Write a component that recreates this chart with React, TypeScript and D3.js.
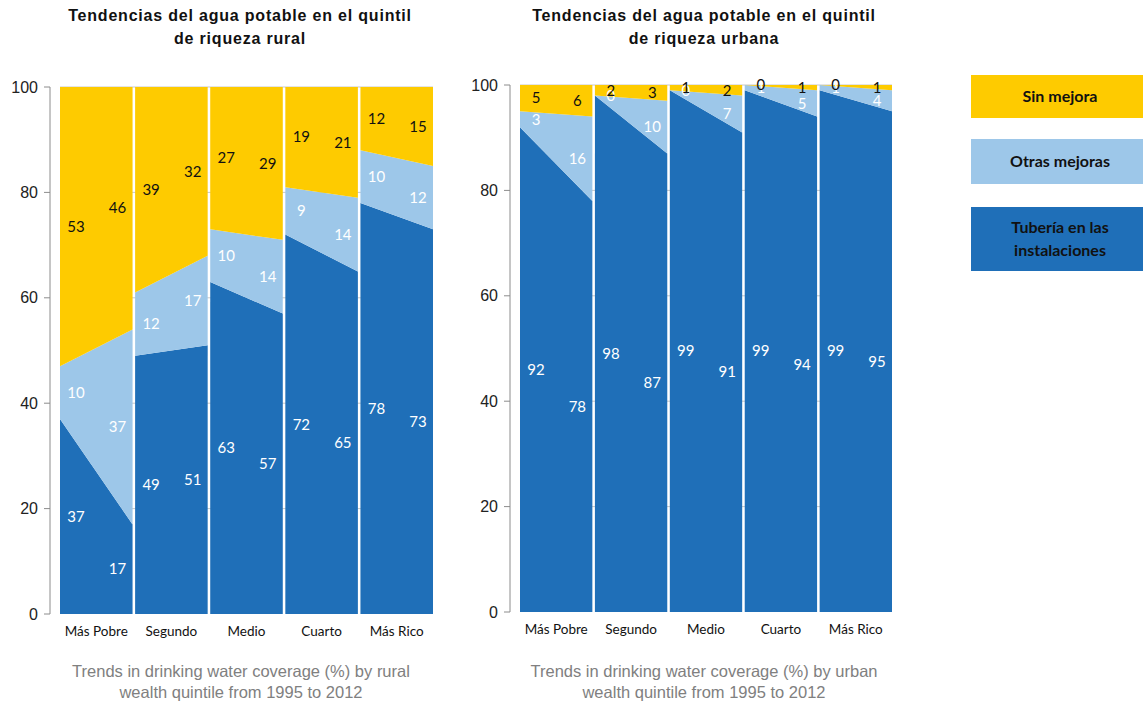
import React from "react";
import * as d3 from "d3";

// Wealth quintiles and the two survey years compared in each group
const quintiles = ["Más Pobre", "Segundo", "Medio", "Cuarto", "Más Rico"];
const years = [1995, 2012];

// Rural coverage (%) per quintile, [1995, 2012]
const ruralPiped = [[37, 17], [49, 51], [63, 57], [72, 65], [78, 73]];
const ruralOther = [[10, 37], [12, 17], [10, 14], [9, 14], [10, 12]];
const ruralUnimproved = [[53, 46], [39, 32], [27, 29], [19, 21], [12, 15]];

// Urban coverage (%) per quintile, [1995, 2012]
const urbanPiped = [[92, 78], [98, 87], [99, 91], [99, 94], [99, 95]];
const urbanOther = [[3, 16], [0, 10], [0, 7], [1, 5], [1, 4]];
const urbanUnimproved = [[5, 6], [2, 3], [1, 2], [0, 1], [0, 1]];

const yTicks = [0, 20, 40, 60, 80, 100];

const seriesNames = ["Tubería en las instalaciones", "Otras mejoras", "Sin mejora"];
const colors = ["#1F6FB8", "#9DC7E9", "#FECB00"];
const labelColors = ["#ffffff", "#ffffff", "#111111"];

const titleFont = "'Liberation Sans', Arial, sans-serif";
const labelFont = "Lato, 'Open Sans', sans-serif";

type PanelProps = {
  title: string[];
  caption: string[];
  series: number[][][];
  x0: number;
  x1: number;
  yBottom: number;
  yTop: number;
  titleX: number;
  captionX: number;
};

function Panel({ title, caption, series, x0, x1, yBottom, yTop, titleX, captionX }: PanelProps) {
  const y = d3.scaleLinear().domain([0, 100]).range([yBottom, yTop]);
  const band = d3.scaleBand<string>().domain(quintiles).range([x0, x1]).paddingInner(0.034).paddingOuter(0);

  // stack the three series at each quintile / year
  const stacks = quintiles.map((_, qi) => {
    let base = [0, 0];
    return series.map((s) => {
      const lo = base.slice();
      const hi = [lo[0] + s[qi][0], lo[1] + s[qi][1]];
      base = hi;
      return { lo, hi, vals: s[qi] };
    });
  });

  const axisX = x0 - 10;

  return (
    <g>
      {title.map((t, i) => (
        <text
          key={i}
          x={titleX}
          y={21 + i * 23}
          textAnchor="middle"
          fontFamily={titleFont}
          fontWeight="bold"
          fontSize={16}
          letterSpacing={0.8}
          fill="#111"
        >
          {t}
        </text>
      ))}

      {/* light gridlines, visible only in the gaps between quintiles */}
      {yTicks.slice(1).map((t) => (
        <line key={t} x1={x0} x2={x1} y1={y(t)} y2={y(t)} stroke="#c8c8c8" strokeWidth={1} />
      ))}

      {quintiles.map((q, qi) => {
        const left = band(q)!;
        const xt = d3.scaleLinear().domain([0, years.length - 1]).range([left, left + band.bandwidth()]);
        return (
          <g key={q}>
            {stacks[qi].map((st, si) => {
              const a = d3
                .area<number>()
                .x((i) => xt(i))
                .y0((i) => y(st.lo[i]))
                .y1((i) => y(st.hi[i]));
              return <path key={si} d={a([0, 1]) || ""} fill={colors[si]} />;
            })}
          </g>
        );
      })}

      {/* value labels at each end of every quintile */}
      {quintiles.map((q, qi) => {
        const left = band(q)!;
        const right = left + band.bandwidth();
        const lx = [left + 16, right - 15];
        return stacks[qi].map((st, si) =>
          [0, 1].map((i) => (
            <text
              key={`${q}-${si}-${i}`}
              x={lx[i]}
              y={y((st.lo[i] + st.hi[i]) / 2)}
              dy="0.35em"
              textAnchor="middle"
              fontFamily={labelFont}
              fontSize={15}
              fill={labelColors[si]}
            >
              {st.vals[i]}
            </text>
          ))
        );
      })}

      {/* y axis */}
      <line x1={axisX} x2={axisX} y1={y(100)} y2={y(0)} stroke="#8c8c8c" strokeWidth={1} />
      {yTicks.map((t) => (
        <g key={t}>
          <line x1={axisX - 6} x2={axisX} y1={y(t)} y2={y(t)} stroke="#8c8c8c" strokeWidth={1} />
          <text x={axisX - 12} y={y(t)} dy="0.35em" textAnchor="end" fontFamily={titleFont} fontSize={16} fill="#222">
            {t}
          </text>
        </g>
      ))}

      {/* category labels */}
      {quintiles.map((q) => (
        <text key={q} x={band(q)! + band.bandwidth() / 2} y={yBottom + 17} dy="0.35em" textAnchor="middle" fontFamily={labelFont} fontSize={13.5} fill="#111">
          {q}
        </text>
      ))}

      {caption.map((c, i) => (
        <text key={i} x={captionX} y={677 + i * 21} textAnchor="middle" fontFamily={titleFont} fontSize={16.5} fill="#808080">
          {c}
        </text>
      ))}
    </g>
  );
}

// Legend boxes, listed from the top series down
const legendItems = [
  { lines: ["Sin mejora"], color: colors[2], y: 75, h: 43 },
  { lines: ["Otras mejoras"], color: colors[1], y: 139, h: 45 },
  { lines: ["Tubería en las", "instalaciones"], color: colors[0], y: 207, h: 64 },
];

export default function App() {
  return (
    <svg width={1143} height={704} style={{ position: "absolute", left: 0, top: 0, background: "#fff" }}>
      <rect width={1143} height={704} fill="#fff" />
      <Panel
        title={["Tendencias del agua potable en el quintil", "de riqueza rural"]}
        caption={["Trends in drinking water coverage (%) by rural", "wealth quintile from 1995 to 2012"]}
        series={[ruralPiped, ruralOther, ruralUnimproved]}
        x0={60}
        x1={433}
        yBottom={614}
        yTop={87}
        titleX={240}
        captionX={241}
      />
      <Panel
        title={["Tendencias del agua potable en el quintil", "de riqueza urbana"]}
        caption={["Trends in drinking water coverage (%) by urban", "wealth quintile from 1995 to 2012"]}
        series={[urbanPiped, urbanOther, urbanUnimproved]}
        x0={520}
        x1={892}
        yBottom={612}
        yTop={85}
        titleX={704}
        captionX={704}
      />
      {legendItems.map((it) => (
        <g key={it.lines[0]}>
          <rect x={971} y={it.y} width={172} height={it.h} fill={it.color} />
          {it.lines.map((l, i) => (
            <text
              key={l}
              x={1060}
              y={it.y + it.h / 2 + (i - (it.lines.length - 1) / 2) * 23}
              dy="0.35em"
              textAnchor="middle"
              fontFamily={labelFont}
              fontWeight="bold"
              fontSize={16}
              fill="#111"
            >
              {l}
            </text>
          ))}
        </g>
      ))}
    </svg>
  );
}
